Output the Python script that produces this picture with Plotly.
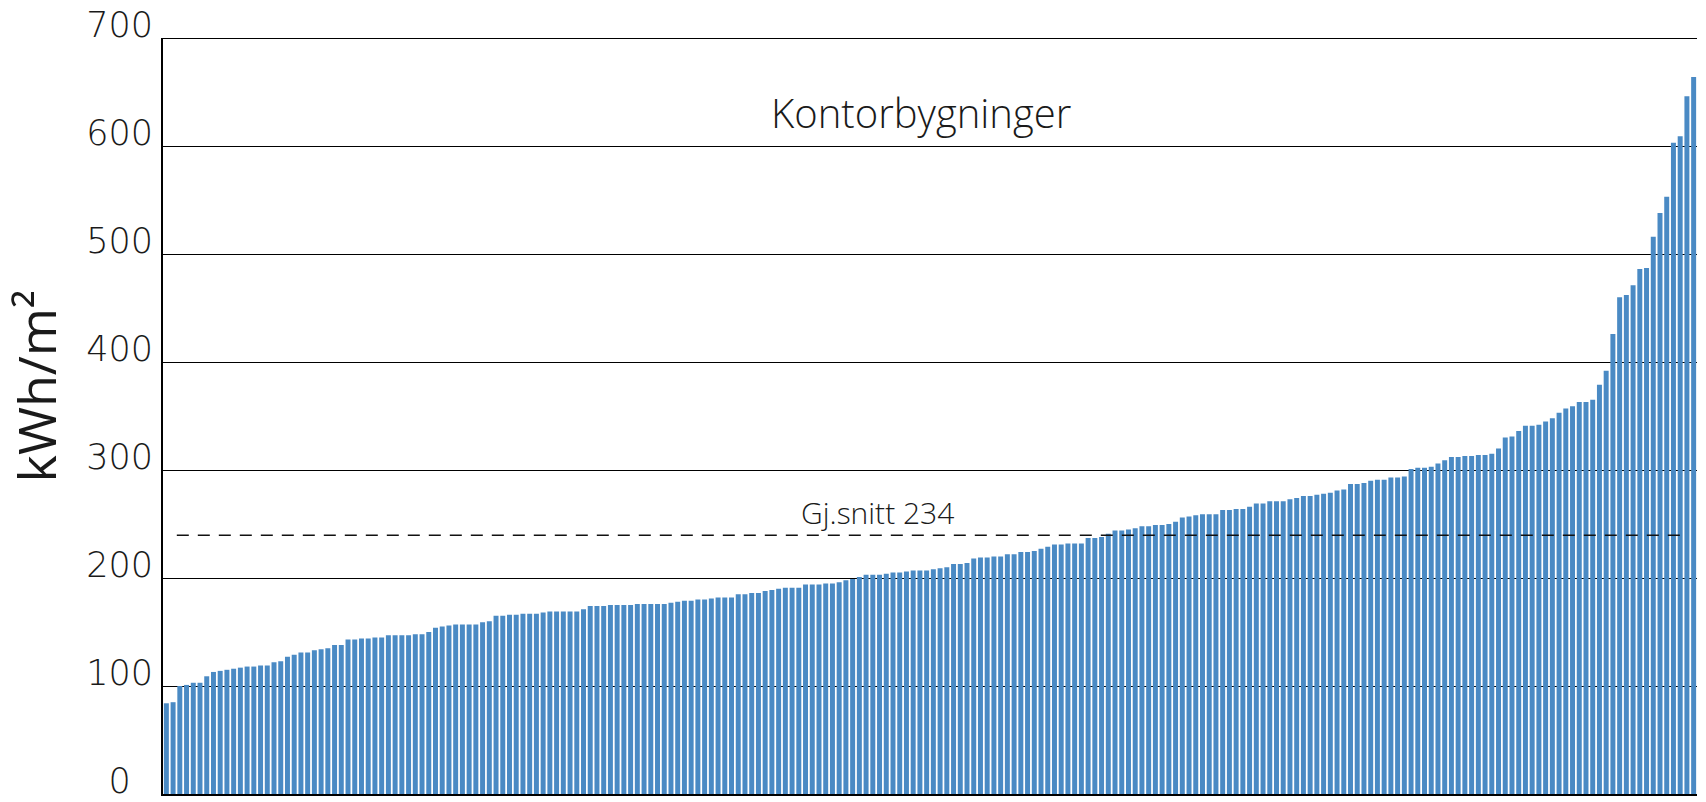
import plotly.graph_objects as go

# ---- data -------------------------------------------------------------
buildings = list(range(1, 229))
kwh_per_m2 = [
    84, 85, 100, 101, 103, 103, 109, 113, 114, 115, 116, 117, 118, 118, 119, 119, 122, 123, 127, 129,
    131, 131, 133, 134, 135, 138, 138, 143, 143, 144, 144, 145, 145, 147, 147, 147, 147, 148,
    148, 150, 154, 155, 156, 157, 157, 157, 157, 159, 160, 165, 165, 166, 166, 167, 167, 167,
    168, 169, 169, 169, 169, 169, 171, 174, 174, 174, 175, 175, 175, 175, 176, 176, 176, 176, 176, 177, 178,
    179, 179, 180, 180, 181, 182, 182, 182, 185, 185, 186, 186, 188, 189, 190, 191, 191, 191, 194, 194,
    194, 195, 195, 196, 198, 199, 201, 203, 203, 203, 204, 205, 205, 206, 207, 207, 207, 208, 209,
    210, 213, 213, 214, 218, 219, 219, 220, 220, 222, 222, 224, 224, 225, 227, 229, 231, 231, 232, 232,
    232, 237, 237, 238, 241, 244, 244, 245, 246, 248, 248, 249, 249, 250, 252, 256, 257, 258,
    259, 259, 259, 263, 263, 264, 264, 266, 269, 269, 271, 271, 271, 273, 274, 276, 276, 277, 278, 279,
    281, 282, 287, 287, 288, 290, 291, 291, 293, 293, 294, 301, 302, 302, 303, 306, 309, 312, 312,
    313, 313, 314, 314, 315, 320, 330, 331, 336, 341, 341, 342, 345, 348, 353, 357, 359, 363, 363, 365,
    379, 392, 426, 460, 462, 471, 486, 487, 516, 538, 553, 603, 609, 646, 664,
]
y_tick_values = [0, 100, 200, 300, 400, 500, 600, 700]
y_tick_labels = ["\u20070\u2007", "100", "200", "300", "400", "500", "600", "700"]
chart_title = "Kontorbygninger"
y_title = "kWh/m\u00b2"
avg_label = "Gj.snitt 234"
avg_line_level = 239.5

# ---- figure -----------------------------------------------------------
BAR_COLOR = "#4A8AC4"
TEXT = "#1a1a1a"

fig = go.Figure()
fig.add_trace(go.Bar(
    x=buildings, y=kwh_per_m2,
    marker=dict(color=BAR_COLOR, line=dict(width=0)),
    hoverinfo="y",
))

# top gridline (at the axis maximum)
fig.add_shape(type="line", xref="paper", yref="y",
              x0=0, x1=1, y0=max(y_tick_values), y1=max(y_tick_values),
              line=dict(color="#000000", width=2), layer="above")

fig.add_shape(type="line", xref="paper", yref="y",
              x0=0.009, x1=0.9896, y0=avg_line_level, y1=avg_line_level,
              line=dict(color="#111111", width=1.5, dash="12px,9px"),
              layer="above")

fig.add_annotation(text=chart_title, xref="paper", yref="paper",
                   x=0.494, y=0.902, xanchor="center", yanchor="middle",
                   showarrow=False,
                   font=dict(family="Open Sans", size=40, color=TEXT, weight=300))
fig.add_annotation(text=avg_label, xref="paper", yref="paper",
                   x=0.4655, y=0.3717, xanchor="center", yanchor="middle",
                   showarrow=False,
                   font=dict(family="Open Sans", size=30, color=TEXT, weight=300))
fig.add_annotation(text=y_title, xref="paper", yref="paper",
                   x=-0.0825, y=0.5397, xanchor="center", yanchor="middle",
                   textangle=-90, showarrow=False,
                   font=dict(family="Open Sans", size=52, color=TEXT))

fig.update_layout(
    width=1706, height=802,
    margin=dict(l=163, r=9, t=38, b=8, autoexpand=False),
    paper_bgcolor="white", plot_bgcolor="white",
    bargap=0.26,
    showlegend=False,
    xaxis=dict(
        range=[0.5, 228.5], automargin=False,
        showticklabels=False, showgrid=False, zeroline=False,
        ticks="", showline=True, linecolor="#000000", linewidth=2,
    ),
    yaxis=dict(
        range=[0, 700], automargin=False,
        tickmode="array", tickvals=y_tick_values, ticktext=y_tick_labels,
        showgrid=True, gridcolor="#000000", gridwidth=1,
        zeroline=False, ticks="",
        showline=True, linecolor="#000000", linewidth=2,
        ticklabelshift=-13, ticklabelstandoff=1,
        tickfont=dict(family="DejaVu Sans", size=35, color=TEXT, weight=200),
    ),
)

fig.write_html("out.html")
